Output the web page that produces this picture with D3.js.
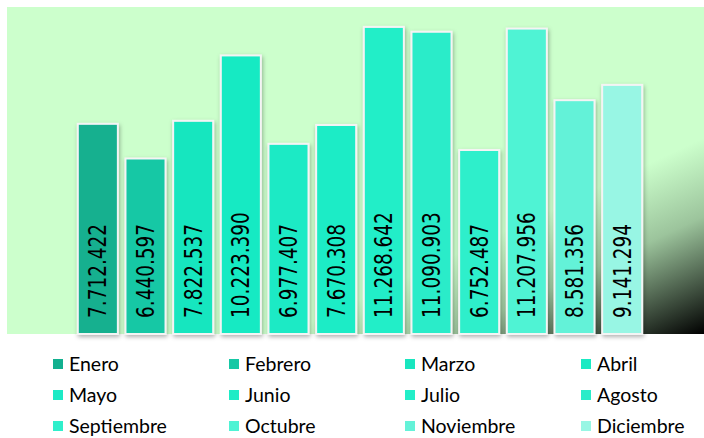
<!DOCTYPE html>
<html>
<head>
<meta charset="utf-8">
<script src="https://cdnjs.cloudflare.com/ajax/libs/d3/7.8.5/d3.min.js"></script>
<style>
body { margin: 0; background: #fff; }
svg { display: block; }
</style>
</head>
<body>
<svg width="704" height="438"></svg>
<script>
var months = ['Enero','Febrero','Marzo','Abril','Mayo','Junio','Julio','Agosto','Septiembre','Octubre','Noviembre','Diciembre']
var values = [7712422, 6440597, 7822537, 10223390, 6977407, 7670308, 11268642, 11090903, 6752487, 11207956, 8581356, 9141294]
var colors = ['#12b08f','#16c8a5','#19e6bf','#19eac3','#1ceac5','#1eecc6','#22eec8','#2aecc9','#2fefcb','#4ff3d4','#64f2d8','#98f6e4']
var yTicks = [0, 12000000]

var svg = d3.select('svg')
var defs = svg.append('defs')

// background fades to black in the lower right corner
var grad = defs.append('linearGradient').attr('id','bg')
  .attr('x1',0).attr('y1',0).attr('x2',1).attr('y2',1)
grad.append('stop').attr('offset','0').attr('stop-color','#ccffcc')
grad.append('stop').attr('offset','0.7').attr('stop-color','#ccffcc')
grad.append('stop').attr('offset','0.82').attr('stop-color','#9cc49c')
grad.append('stop').attr('offset','1').attr('stop-color','#000000')

var shadow = defs.append('filter').attr('id','shadow')
  .attr('x','-20%').attr('y','-20%').attr('width','140%').attr('height','140%')
shadow.append('feDropShadow').attr('dx',1).attr('dy',2).attr('stdDeviation',2)
  .attr('flood-color','#000').attr('flood-opacity',0.3)

var plotLeft = 7, plotTop = 7, plotRight = 704, plotBottom = 334

svg.append('rect')
  .attr('x',plotLeft).attr('y',plotTop)
  .attr('width',plotRight-plotLeft).attr('height',plotBottom-plotTop)
  .attr('fill','url(#bg)')

var x = d3.scaleBand().domain(months).range([74, 646]).paddingInner(0.16).paddingOuter(0.08)
var y = d3.scaleLinear().domain(yTicks).range([plotBottom, plotTop])

var bars = svg.append('g').selectAll('g')
  .data(months)
  .enter()
  .append('g')

bars.append('rect')
  .attr('x', function(d){ return x(d) })
  .attr('y', function(d,i){ return y(values[i]) })
  .attr('width', x.bandwidth())
  .attr('height', function(d,i){ return y(0) - y(values[i]) })
  .attr('fill', function(d,i){ return colors[i] })
  .attr('stroke','#f4f4f4')
  .attr('stroke-width',2)
  .attr('filter','url(#shadow)')

var fmt = function(v){ return d3.format(',')(v).replace(/,/g,'.') }

bars.append('text')
  .attr('transform', function(d){
    return 'translate(' + (x(d) + x.bandwidth()/2) + ',318) scale(1.3,1) rotate(-90)'
  })
  .attr('dominant-baseline','central')
  .attr('font-family','DejaVu Sans')
  .attr('font-size',18.5)
  .attr('fill','#000')
  .text(function(d,i){ return fmt(values[i]) })

// legend
var legend = svg.append('g').selectAll('g')
  .data(months)
  .enter()
  .append('g')
  .attr('transform', function(d,i){
    return 'translate(' + (53 + (i % 4) * 176) + ',' + (371 + Math.floor(i / 4) * 31) + ')'
  })

legend.append('rect')
  .attr('x',0).attr('y',-12)
  .attr('width',10).attr('height',10)
  .attr('fill', function(d,i){ return colors[i] })

legend.append('text')
  .attr('x',16)
  .attr('font-family','Lato')
  .attr('font-size',19.5)
  .attr('fill','#000')
  .text(function(d){ return d })
</script>
</body>
</html>
